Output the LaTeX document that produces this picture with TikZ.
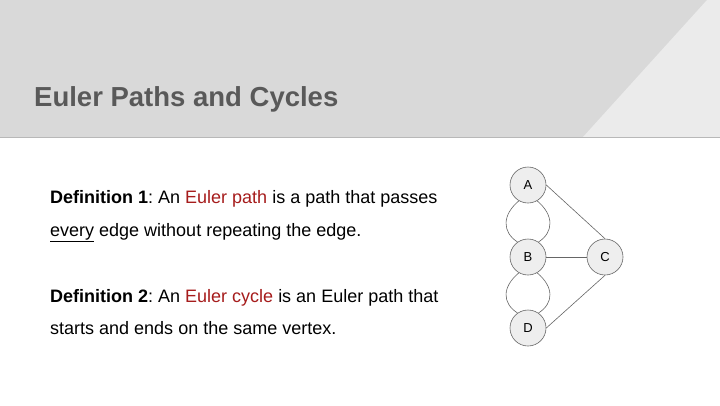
\documentclass[tikz,border=0pt]{standalone}
\usepackage{fontspec}
\setmainfont{Liberation Sans}
\definecolor{hdr}{HTML}{D9D9D9}
\definecolor{hdrlight}{HTML}{EBEBEB}
\definecolor{ttl}{HTML}{595959}
\definecolor{eul}{HTML}{A61C1C}
\definecolor{vfill}{HTML}{EEEEEE}
\definecolor{vline}{HTML}{666666}
\begin{document}
\frenchspacing
\begin{tikzpicture}[x=1pt,y=-1pt,
  vtx/.style={circle,draw=vline,fill=vfill,line width=0.6pt,minimum size=36pt,inner sep=0pt,font=\fontsize{13}{15}\selectfont},
  edge/.style={draw=vline,line width=0.6pt},
  body/.style={anchor=base west,inner sep=0pt,font=\fontsize{18}{20}\selectfont}]
\useasboundingbox (0,0) rectangle (720,405);
\fill[white] (0,0) rectangle (720,405);
\fill[hdr] (0,0) rectangle (720,137);
\fill[hdrlight] (583,137) -- (707,0) -- (720,0) -- (720,137) -- cycle;
\draw[hdr!85!black,line width=0.5pt] (0,137.5) -- (720,137.5);
\node[anchor=base west,inner sep=0pt,text=ttl,font=\fontsize{27.5}{30}\selectfont\bfseries] (title) at (34,106) {Euler Paths and Cycles};
\node[body] (d1a) at (50,203) {\textbf{Definition 1}: An \textcolor{eul}{Euler path} is a path that passes};
\node[body] (d1b) at (50,236) {\underline{every} edge without repeating the edge.};
\node[body] (d2a) at (50,302) {\textbf{Definition 2}: An \textcolor{eul}{Euler cycle} is an Euler path that};
\node[body] (d2b) at (50,334) {starts and ends on the same vertex.};
\node[vtx] (A) at (528,185) {A};
\node[vtx] (B) at (528,257) {B};
\node[vtx] (C) at (605,257) {C};
\node[vtx] (D) at (528,328) {D};
\draw[edge] (A.east) -- (C.north);
\draw[edge] (B.east) -- (C.west);
\draw[edge] (D.east) -- (C.south);
\draw[edge] (A.240) .. controls (502,215) and (502,232) .. (B.125);
\draw[edge] (A.300) .. controls (554,215) and (554,232) .. (B.55);
\draw[edge] (B.240) .. controls (502,287) and (502,303) .. (D.125);
\draw[edge] (B.300) .. controls (554,287) and (554,303) .. (D.55);
\end{tikzpicture}
\end{document}
